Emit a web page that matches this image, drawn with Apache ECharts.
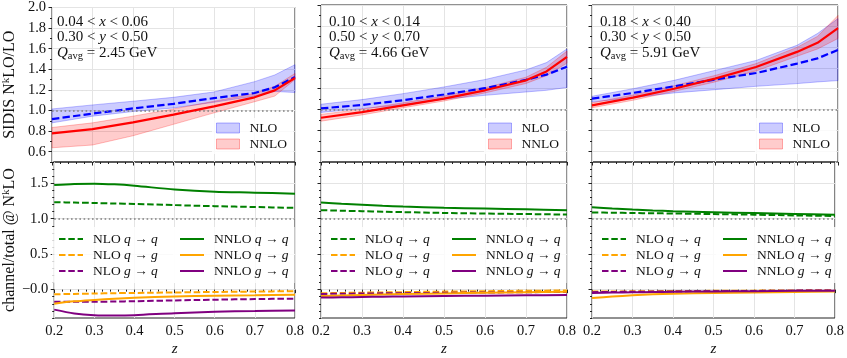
<!DOCTYPE html>
<html>
<head>
<meta charset="utf-8">
<script src="https://cdn.jsdelivr.net/npm/echarts@6/dist/echarts.min.js"></script>
<style>
html,body{margin:0;padding:0;background:#fff;}
#main{width:847px;height:358px;}
</style>
</head>
<body>
<div id="main"></div>
<script>
// z points
var zTop = [0.2, 0.3, 0.4, 0.5, 0.6, 0.7, 0.75, 0.8];
var zBot = [0.2, 0.25, 0.3, 0.35, 0.4, 0.5, 0.6, 0.7, 0.8];

// kinematic bins, one entry per column
var xLo = ['0.04', '0.10', '0.18'];
var xHi = ['0.06', '0.14', '0.40'];
var yLo = ['0.30', '0.50', '0.30'];
var yHi = ['0.50', '0.70', '0.50'];
var qAvg = ['2.45', '4.66', '5.91'];

// top row: N^kLO/LO, central + band edges (one row per column)
var nloMid = [
	[0.917, 0.970, 1.020, 1.065, 1.120, 1.170, 1.225, 1.325],
	[1.012, 1.045, 1.090, 1.145, 1.205, 1.285, 1.335, 1.410],
	[1.105, 1.160, 1.223, 1.288, 1.350, 1.440, 1.490, 1.570]
];
var nloHi = [
	[1.015, 1.054, 1.090, 1.128, 1.180, 1.280, 1.345, 1.445],
	[1.052, 1.096, 1.153, 1.217, 1.288, 1.380, 1.450, 1.580],
	[1.128, 1.200, 1.280, 1.375, 1.470, 1.615, 1.728, 1.870]
];
var nloLo = [
	[0.880, 0.945, 0.990, 1.025, 1.080, 1.140, 1.185, 1.175],
	[0.974, 1.010, 1.045, 1.100, 1.137, 1.169, 1.185, 1.212],
	[1.073, 1.115, 1.160, 1.191, 1.223, 1.249, 1.265, 1.278]
];
var nnloMid = [
	[0.778, 0.820, 0.885, 0.960, 1.040, 1.128, 1.195, 1.315],
	[0.923, 0.977, 1.041, 1.105, 1.185, 1.280, 1.365, 1.504],
	[1.041, 1.115, 1.200, 1.297, 1.408, 1.552, 1.639, 1.780]
];
var nnloHi = [
	[0.835, 0.880, 0.945, 1.015, 1.090, 1.165, 1.235, 1.360],
	[0.955, 1.005, 1.065, 1.130, 1.210, 1.310, 1.405, 1.560],
	[1.065, 1.140, 1.228, 1.327, 1.440, 1.595, 1.700, 1.900]
];
var nnloLo = [
	[0.638, 0.665, 0.755, 0.866, 0.977, 1.085, 1.140, 1.300],
	[0.890, 0.950, 1.018, 1.083, 1.160, 1.250, 1.325, 1.445],
	[1.018, 1.090, 1.175, 1.265, 1.370, 1.510, 1.580, 1.680]
];

// bottom row: channel/total
var nloQQ = [
	[1.233, 1.228, 1.222, 1.215, 1.208, 1.192, 1.177, 1.165, 1.153],
	[1.120, 1.113, 1.106, 1.099, 1.093, 1.082, 1.073, 1.066, 1.059],
	[1.088, 1.085, 1.081, 1.077, 1.074, 1.066, 1.057, 1.047, 1.038]
];
var nloQG = [
	[-0.065, -0.060, -0.055, -0.050, -0.047, -0.040, -0.033, -0.027, -0.022],
	[-0.052, -0.047, -0.043, -0.039, -0.035, -0.028, -0.022, -0.016, -0.012],
	[-0.028, -0.026, -0.024, -0.022, -0.020, -0.017, -0.014, -0.011, -0.009]
];
var nloGQ = [
	[-0.170, -0.172, -0.172, -0.168, -0.163, -0.152, -0.142, -0.133, -0.127],
	[-0.061, -0.058, -0.055, -0.052, -0.050, -0.045, -0.040, -0.036, -0.033],
	[-0.036, -0.033, -0.030, -0.028, -0.026, -0.022, -0.018, -0.014, -0.011]
];
var nnloQQ = [
	[1.475, 1.490, 1.495, 1.485, 1.465, 1.412, 1.380, 1.368, 1.352],
	[1.228, 1.210, 1.196, 1.183, 1.172, 1.154, 1.143, 1.133, 1.120],
	[1.163, 1.145, 1.130, 1.117, 1.106, 1.092, 1.080, 1.068, 1.055]
];
var nnloQG = [
	[-0.198, -0.165, -0.145, -0.128, -0.115, -0.097, -0.086, -0.079, -0.072],
	[-0.090, -0.082, -0.075, -0.068, -0.062, -0.053, -0.045, -0.038, -0.030],
	[-0.118, -0.097, -0.080, -0.066, -0.057, -0.047, -0.039, -0.033, -0.028]
];
var nnloGQ = [
	[-0.282, -0.335, -0.360, -0.365, -0.360, -0.332, -0.312, -0.302, -0.293],
	[-0.112, -0.108, -0.104, -0.100, -0.097, -0.090, -0.085, -0.080, -0.077],
	[-0.046, -0.042, -0.038, -0.034, -0.031, -0.025, -0.021, -0.017, -0.014]
];

var chanFrom = ['q', 'q', 'g'];
var chanTo = ['q', 'g', 'q'];
var chanColor = ['#008000', '#ffa500', '#800080'];

var topTicks = [0.6, 0.8, 1.0, 1.2, 1.4, 1.6, 1.8, 2.0];
var botTicks = [0, 0.5, 1.0, 1.5];
var refLevel = 1.0;

var FONT = '"Liberation Serif", "DejaVu Serif", serif';
var colLeft = [49, 321, 592];
var colW = 246;

function pts(zs, ys){
	return zs.map(function(z, i){ return [z, ys[i]]; });
}

// band polygon drawn once through the axis scales
function bandSeries(name, g, yi, lo, hi, rgb, zz){
	return {
		type: 'custom', name: name, xAxisIndex: g, yAxisIndex: yi, silent: true, z: zz,
		itemStyle: {color: 'rgba(' + rgb + ',0.2)'},
		encode: {x: 0, y: [1, 2]},
		data: zTop.map(function(z, i){ return [z, lo[i], hi[i]]; }),
		renderItem: function(params, api){
			if(params.dataIndex !== 0) return;
			var up = [], dn = [];
			for(var i = 0; i < zTop.length; i++){
				up.push(api.coord([zTop[i], hi[i]]));
				dn.unshift(api.coord([zTop[i], lo[i]]));
			}
			return {
				type: 'polygon',
				shape: {points: up.concat(dn)},
				style: {fill: 'rgba(' + rgb + ',0.2)', stroke: 'rgba(' + rgb + ',0.25)', lineWidth: 1}
			};
		}
	};
}

var grids = [], xAxes = [], yAxes = [], series = [], legends = [], graphics = [];

for(var row = 0; row < 2; row++){
	for(var c = 0; c < 3; c++){
		var g = row * 3 + c;
		grids.push({
			left: colLeft[c], width: colW,
			top: row === 0 ? 5 : 162, height: row === 0 ? 157 : 156,
			show: true, borderColor: '#222', borderWidth: 1, backgroundColor: 'transparent'
		});
		xAxes.push({
			gridIndex: g, type: 'value', min: 0.2, max: 0.8, interval: 0.1,
			axisLine: {show: false},
			axisTick: {show: true, length: 3.5, lineStyle: {color: '#222'}},
			minorTick: {show: true, splitNumber: 5, length: 2, lineStyle: {color: '#222'}},
			axisLabel: {show: row === 1, fontFamily: FONT, fontSize: 14.5, color: '#111', margin: 6,
				formatter: function(v){ return v.toFixed(1); }},
			splitLine: {show: true, lineStyle: {color: '#e4e4e4', width: 1}},
			name: row === 1 ? 'z' : '', nameLocation: 'middle', nameGap: 24,
			nameTextStyle: {fontFamily: FONT, fontSize: 15, fontStyle: 'italic', color: '#111'}
		});
		var ticks = row === 0 ? topTicks : botTicks;
		var yName = '';
		if(c === 0){
			yName = row === 0 ? '{a|SIDIS N}{k|k}{a|LO/LO}' : '{a|channel/total @ N}{k|k}{a|LO}';
		}
		yAxes.push({
			gridIndex: g, type: 'value', position: 'left',
			min: row === 0 ? 0.5 : -0.4, max: row === 0 ? 2.0 : 1.8,
			axisLine: {show: false},
			axisTick: {show: true, length: 3.5, customValues: ticks, lineStyle: {color: '#222'}},
			axisLabel: {show: c === 0, customValues: ticks, fontFamily: FONT, fontSize: 14.5, color: '#111', margin: 6,
				formatter: function(v){ return Math.abs(v) < 1e-9 ? '\u22120.0' : v.toFixed(1); }},
			splitLine: {show: true, lineStyle: {color: '#e4e4e4', width: 1}},
			name: yName, nameLocation: 'middle', nameRotate: 90, nameGap: 33,
			nameTextStyle: {rich: {
				a: {fontFamily: FONT, fontSize: 16, color: '#111', lineHeight: 18},
				k: {fontFamily: FONT, fontSize: 11, color: '#111', lineHeight: 18, verticalAlign: 'top'}
			}}
		});
		// minor y ticks
		yAxes.push({
			gridIndex: g, type: 'value', position: 'left', offset: 0,
			min: row === 0 ? 0.5 : -0.4, max: row === 0 ? 2.0 : 1.8, interval: 0.1,
			axisLine: {show: false},
			axisTick: {show: true, length: 2, lineStyle: {color: '#222'}},
			axisLabel: {show: false}, splitLine: {show: false}
		});
		var yi = 2 * g;

		if(row === 0){
			series.push(bandSeries('NLO', g, yi, nloLo[c], nloHi[c], '0,0,255', 1));
			series.push(bandSeries('NNLO', g, yi, nnloLo[c], nnloHi[c], '255,0,0', 2));
			series.push({
				type: 'line', name: 'NLO central', xAxisIndex: g, yAxisIndex: yi,
				symbol: 'none', z: 4,
				lineStyle: {color: '#0000ff', width: 2.2, type: [7.4, 3.2]},
				data: pts(zTop, nloMid[c]),
				markLine: {symbol: 'none', silent: true, label: {show: false}, animation: false,
					lineStyle: {color: '#808080', width: 1.6, type: [1.6, 2.6]},
					data: [{yAxis: refLevel}]}
			});
			series.push({
				type: 'line', name: 'NNLO central', xAxisIndex: g, yAxisIndex: yi,
				symbol: 'none', z: 5,
				lineStyle: {color: '#ff0000', width: 2.2},
				data: pts(zTop, nnloMid[c])
			});
			legends.push({
				left: colLeft[c] + 163, top: 118, orient: 'vertical',
				itemWidth: 23, itemHeight: 10, itemGap: 2, padding: [3, 6, 3, 4],
				backgroundColor: 'rgba(255,255,255,0.8)', selectedMode: false,
				textStyle: {fontFamily: FONT, fontSize: 13.5, color: '#111', lineHeight: 14, padding: [0, 0, 0, 5]},
				data: [
					{name: 'NLO', icon: 'rect', itemStyle: {color: 'rgba(0,0,255,0.2)', borderColor: 'rgba(0,0,255,0.3)', borderWidth: 1}},
					{name: 'NNLO', icon: 'rect', itemStyle: {color: 'rgba(255,0,0,0.2)', borderColor: 'rgba(255,0,0,0.3)', borderWidth: 1}}
				]
			});
			// bin annotation
			var tx = colLeft[c] + 8;
			var rich = {
				n: {fontFamily: FONT, fontSize: 15, fill: '#111', lineHeight: 17},
				i: {fontFamily: FONT, fontSize: 15, fontStyle: 'italic', fill: '#111', lineHeight: 17},
				s: {fontFamily: FONT, fontSize: 10.5, fill: '#111', lineHeight: 17, verticalAlign: 'bottom'}
			};
			var lines = [
				'{n|' + xLo[c] + ' < }{i|x}{n| < ' + xHi[c] + '}',
				'{n|' + yLo[c] + ' < }{i|y}{n| < ' + yHi[c] + '}',
				'{i|Q}{s|avg}{n| = ' + qAvg[c] + ' GeV}'
			];
			lines.forEach(function(t, li){
				graphics.push({type: 'text', x: tx, y: 22 + li * 15.5, z: 100,
					style: {text: t, rich: rich, verticalAlign: 'middle', align: 'left'}});
			});
		} else {
			var nloSets = [nloQQ, nloQG, nloGQ];
			var nnloSets = [nnloQQ, nnloQG, nnloGQ];
			for(var k = 0; k < 3; k++){
				series.push({
					type: 'line', name: 'NLO ' + chanFrom[k] + '→' + chanTo[k], xAxisIndex: g, yAxisIndex: yi,
					symbol: 'none', smooth: 0.3, z: 3,
					lineStyle: {color: chanColor[k], width: 2, type: [6.5, 2.8]},
					itemStyle: {color: chanColor[k]},
					data: pts(zBot, nloSets[k][c]),
					markLine: k === 0 ? {symbol: 'none', silent: true, label: {show: false}, animation: false,
						lineStyle: {color: '#808080', width: 1.6, type: [1.6, 2.6]},
						data: [{yAxis: refLevel}]} : undefined
				});
			}
			for(var k2 = 0; k2 < 3; k2++){
				series.push({
					type: 'line', name: 'NNLO ' + chanFrom[k2] + '→' + chanTo[k2], xAxisIndex: g, yAxisIndex: yi,
					symbol: 'none', smooth: 0.3, z: 3,
					lineStyle: {color: chanColor[k2], width: 2},
					itemStyle: {color: chanColor[k2]},
					data: pts(zBot, nnloSets[k2][c])
				});
			}
			var legRich = {
				r: {fontFamily: FONT, fontSize: 13.5, color: '#111', lineHeight: 14},
				i: {fontFamily: FONT, fontSize: 13.5, fontStyle: 'italic', color: '#111', lineHeight: 14}
			};
			var legFmt = function(name){
				var p = name.split(' ');
				var ft = p[1].split('→');
				return '{r|' + p[0] + ' }{i|' + ft[0] + '}{r| → }{i|' + ft[1] + '}';
			};
			['NLO', 'NNLO'].forEach(function(ord, oi){
				legends.push({
					left: colLeft[c] + (oi === 0 ? 3 : 124), top: 227, orient: 'vertical',
					itemWidth: 24, itemHeight: 12, itemGap: 2,
					padding: oi === 0 ? [5, 22, 5, 6] : [5, 6, 5, 6],
					backgroundColor: 'rgba(255,255,255,0.8)', selectedMode: false,
					itemStyle: {opacity: 0, color: 'rgba(0,0,0,0)', borderWidth: 0},
					formatter: legFmt,
					textStyle: {rich: legRich, padding: [0, 0, 0, 5]},
					data: [0, 1, 2].map(function(k){ return ord + ' ' + chanFrom[k] + '→' + chanTo[k]; })
				});
			});
		}
	}
}

var myChart = echarts.init(document.getElementById('main'), null, {renderer: 'canvas'});
myChart.setOption({
	animation: false,
	backgroundColor: '#fff',
	grid: grids,
	xAxis: xAxes,
	yAxis: yAxes,
	legend: legends,
	graphic: graphics,
	series: series
});
</script>
</body>
</html>
